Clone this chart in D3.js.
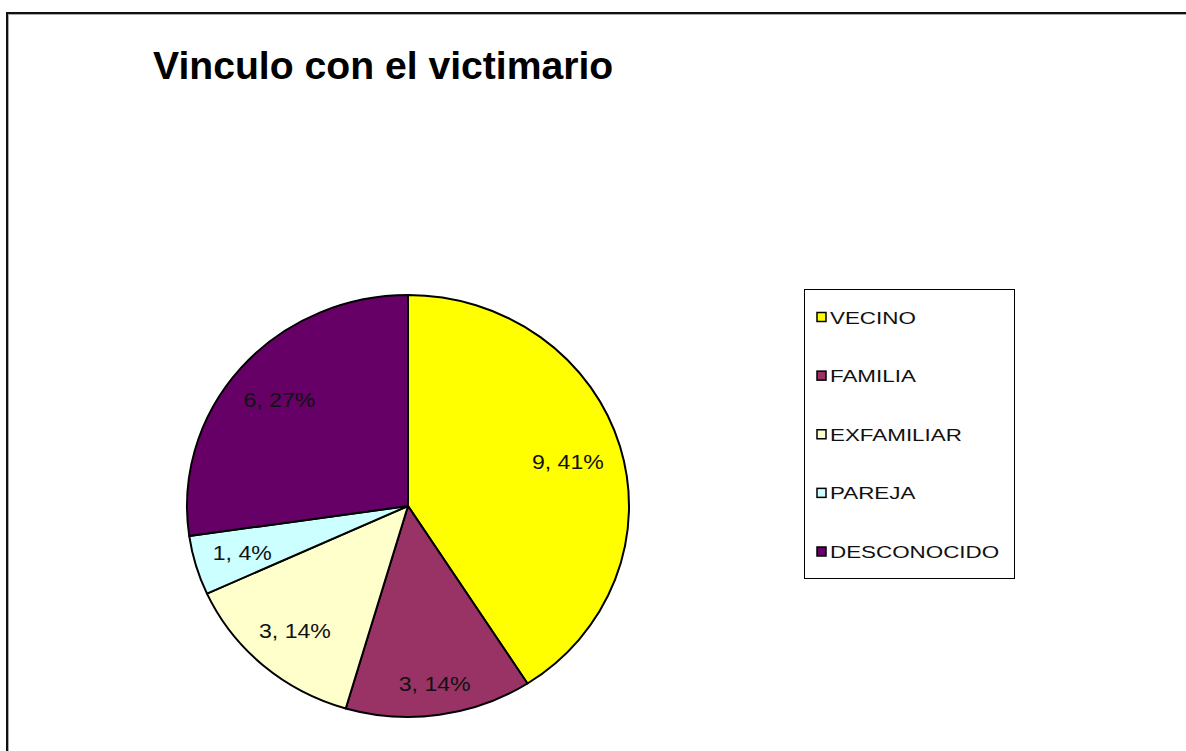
<!DOCTYPE html>
<html>
<head>
<meta charset="utf-8">
<script src="https://cdn.jsdelivr.net/npm/d3@7"></script>
<style>
  body { margin: 0; background: #fff; }
  svg { display: block; font-family: Arial, "Liberation Sans", sans-serif; }
</style>
</head>
<body>
<svg id="chart"></svg>
<script>
// data
var categories = ["VECINO", "FAMILIA", "EXFAMILIAR", "PAREJA", "DESCONOCIDO"];
var counts = [9, 3, 3, 1, 6];
var percents = [41, 14, 14, 4, 27];
var colors = ["#ffff00", "#993366", "#ffffcc", "#ccffff", "#660066"];

var width = 1186, height = 751;

var svg = d3.select("#chart")
  .attr("width", width)
  .attr("height", height);

// outer frame of the chart area
svg.append("rect")
  .attr("x", 8.5).attr("y", 14.5)
  .attr("width", 1300).attr("height", 900)
  .style("fill", "none")
  .style("stroke", "#aaa")
  .style("stroke-width", 1);
svg.append("rect")
  .attr("x", 7).attr("y", 13)
  .attr("width", 1300).attr("height", 900)
  .style("fill", "none")
  .style("stroke", "#111")
  .style("stroke-width", 2);

// title
svg.append("text")
  .attr("transform", "translate(153,79) scale(1.03,1)")
  .style("font-size", "38px")
  .style("font-weight", "bold")
  .style("fill", "#000")
  .text("Vinculo con el victimario");

// pie (slightly wider than tall, as in the original)
var cx = 408, cy = 506, rx = 221, ry = 211;

var pie = d3.pie().sort(null).value(function (d) { return d; });
var arcs = pie(counts);
var arc = d3.arc().innerRadius(0).outerRadius(ry);

var gPie = svg.append("g")
  .attr("id", "group-pie")
  .attr("transform", "translate(" + cx + "," + cy + ") scale(" + (rx / ry) + ",1)");

gPie.selectAll("path")
  .data(arcs)
  .enter().append("path")
    .attr("d", arc)
    .attr("vector-effect", "non-scaling-stroke")
    .style("fill", function (d, i) { return colors[i]; })
    .style("stroke", "#000")
    .style("stroke-width", 2)
    .style("stroke-linejoin", "round");

// data labels, placed inside near the rim
var labelSize = 21, labelScale = 1.1, capH = labelSize * 0.716, k = 0.92;
var gLabels = svg.append("g").attr("id", "group-labels");

arcs.forEach(function (d, i) {
  var t = gLabels.append("text")
    .style("font-size", labelSize + "px")
    .style("fill", "#111")
    .attr("text-anchor", "middle")
    .text(counts[i] + ", " + percents[i] + "%");
  var w = t.node().getComputedTextLength() * labelScale;
  var a = (d.startAngle + d.endAngle) / 2;
  var ux = Math.sin(a), uy = -Math.cos(a);
  var sx = ux >= 0 ? 1 : -1, sy = uy >= 0 ? 1 : -1;
  var lo = 0, hi = 1;
  for (var n = 0; n < 40; n++) {
    var m = (lo + hi) / 2;
    var px = (m * rx * ux + sx * w / 2) / (k * rx);
    var py = (m * ry * uy + sy * capH / 2) / (k * ry);
    if (px * px + py * py > 1) hi = m; else lo = m;
  }
  var lx = cx + lo * rx * ux, ly = cy + lo * ry * uy;
  t.attr("transform", "translate(" + lx + "," + (ly + capH / 2) + ") scale(" + labelScale + ",1)");
});

// legend
var legX = 804, legY = 289, legW = 210, legH = 289;
var rowY = d3.scalePoint()
  .domain(categories)
  .range([317.5, 552]);

var gLegend = svg.append("g").attr("id", "group-legend");
gLegend.append("rect")
  .attr("x", legX + 0.5).attr("y", legY + 0.5)
  .attr("width", legW).attr("height", legH)
  .style("fill", "#fff")
  .style("stroke", "#000")
  .style("stroke-width", 1);

var items = gLegend.selectAll("g.item")
  .data(categories)
  .enter().append("g")
    .attr("class", "item")
    .attr("transform", function (d) { return "translate(0," + rowY(d) + ")"; });

items.append("rect")
  .attr("x", 817).attr("y", -5)
  .attr("width", 9).attr("height", 9)
  .style("fill", function (d, i) { return colors[i]; })
  .style("stroke", "#000")
  .style("stroke-width", 1.5);

items.append("text")
  .attr("transform", "translate(830,6) scale(1.4,1)")
  .style("font-size", "16px")
  .style("fill", "#111")
  .text(function (d) { return d; });
</script>
</body>
</html>
